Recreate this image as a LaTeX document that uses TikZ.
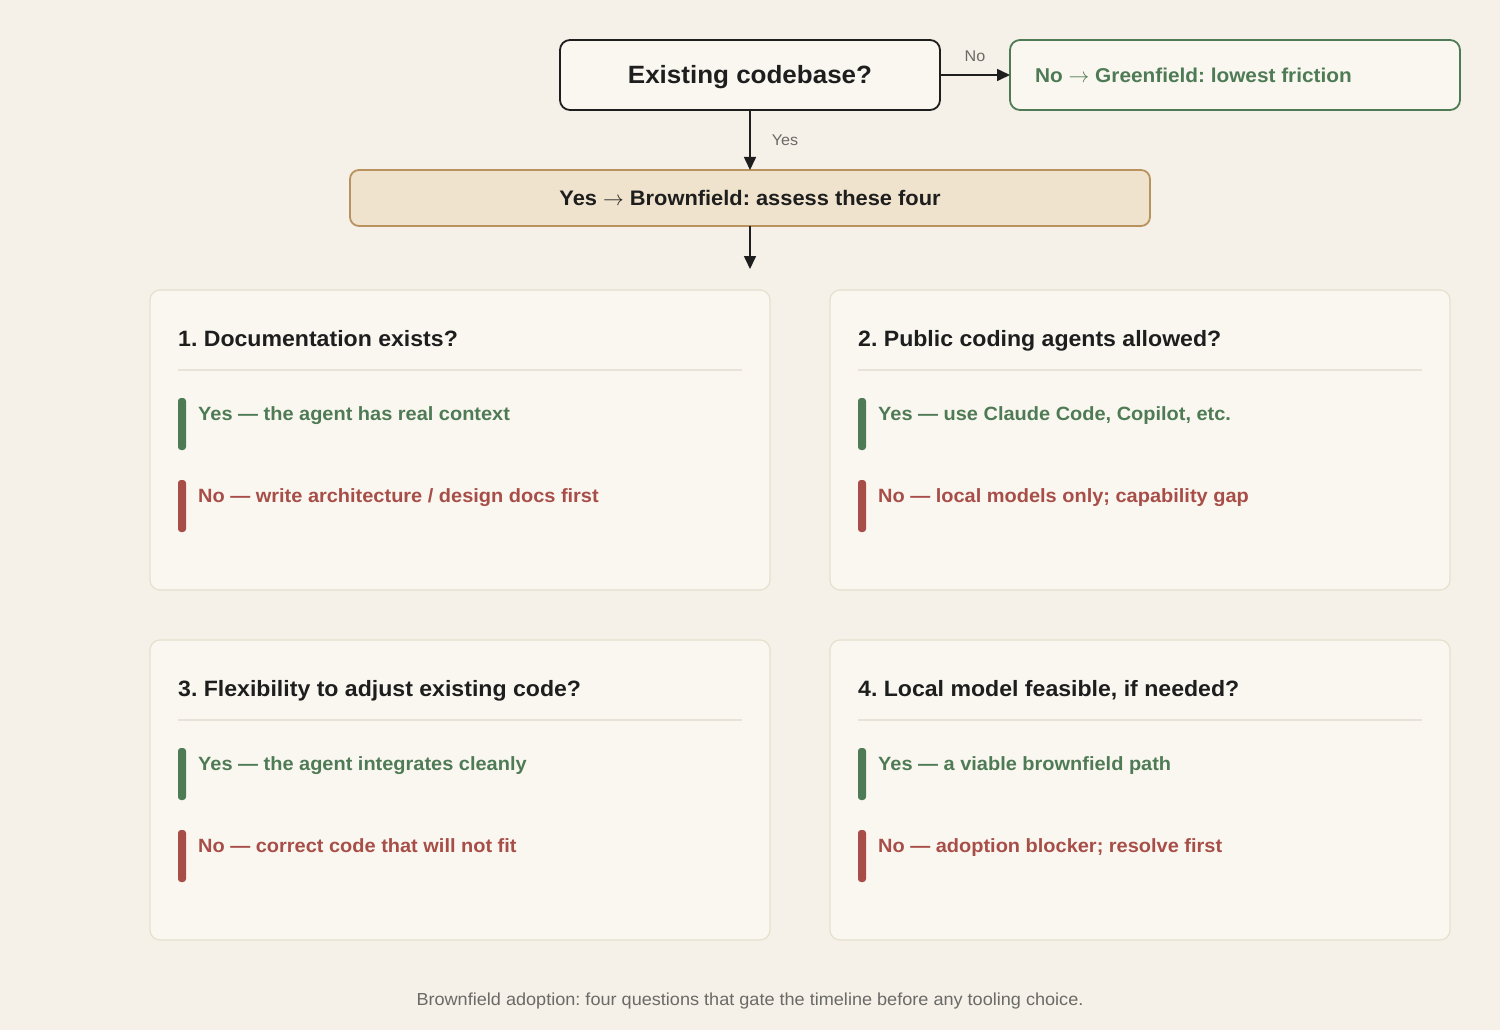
\documentclass[tikz,border=0pt]{standalone}
\usepackage{fontspec}
\setmainfont[FakeStretch=1.04]{Liberation Sans}
\usetikzlibrary{arrows.meta}
\frenchspacing
\definecolor{bg}{HTML}{F5F0E8}
\definecolor{cardfill}{HTML}{FAF7F0}
\definecolor{cardline}{HTML}{E6E0CE}
\definecolor{sepline}{HTML}{E8E2D8}
\definecolor{okgreen}{HTML}{4E7B55}
\definecolor{nored}{HTML}{A84E48}
\definecolor{tanline}{HTML}{B8935F}
\definecolor{tanfill}{HTML}{EFE3CD}
\definecolor{ink}{HTML}{1E1E1E}
\definecolor{muted}{HTML}{6A6A66}
\newcommand{\arr}{\ensuremath{\rightarrow}}
\tikzset{
  qbox/.style={draw=ink, line width=1.8pt, fill=cardfill, rounded corners=10pt},
  gbox/.style={draw=okgreen, line width=1.8pt, fill=cardfill, rounded corners=10pt},
  bbox/.style={draw=tanline, line width=1.8pt, fill=tanfill, rounded corners=9pt},
  card/.style={draw=cardline, line width=1.2pt, fill=cardfill, rounded corners=10pt},
  flow/.style={draw=ink, line width=1.6pt, -{Triangle[length=13pt,width=12pt]}},
  lbl/.style={anchor=base, text=muted, font=\fontsize{15.5}{18}\selectfont, inner sep=0pt},
  ttl/.style={anchor=base west, inner sep=0pt, text=ink, font=\fontsize{22.2}{26}\selectfont\bfseries},
  yesitem/.style={anchor=base west, inner sep=0pt, text=okgreen, font=\fontsize{19.2}{22}\selectfont\bfseries},
  noitem/.style={anchor=base west, inner sep=0pt, text=nored, font=\fontsize{19.2}{22}\selectfont\bfseries},
  gbar/.style={fill=okgreen, rounded corners=3pt},
  rbar/.style={fill=nored, rounded corners=3pt},
}
\newcommand{\qcard}[6]{%
  % #1 name, #2 x, #3 y, #4 title, #5 yes text, #6 no text
  \draw[card] (#2,#3) rectangle ++(620,300);
  \node[ttl] (#1t) at (#2+28,#3+56) {#4};
  \draw[draw=sepline, line width=1.2pt] (#2+28,#3+80) -- (#2+592,#3+80);
  \fill[gbar] (#2+28,#3+108) rectangle (#2+36,#3+160);
  \node[yesitem] (#1y) at (#2+48,#3+130) {#5};
  \fill[rbar] (#2+28,#3+190) rectangle (#2+36,#3+242);
  \node[noitem] (#1n) at (#2+48,#3+212) {#6};
}
\begin{document}
\begin{tikzpicture}[x=1pt,y=-1pt]
\fill[bg] (0,0) rectangle (1500,1030);
\useasboundingbox (0,0) rectangle (1500,1030);

\draw[qbox] (560,40) rectangle (940,110);
\node[anchor=base, inner sep=0pt, text=ink, font=\fontsize{25}{28}\selectfont\bfseries] (exist) at (750,84) {Existing codebase?};
\coordinate (existR) at (940,75);
\coordinate (existB) at (750,110);

\draw[gbox] (1010,40) rectangle (1460,110);
\node[anchor=base west, inner sep=0pt, text=okgreen, font=\fontsize{20}{22}\selectfont\bfseries] (green) at (1035,83) {No \arr{} Greenfield: lowest friction};
\coordinate (greenL) at (1010,75);

\draw[bbox] (350,170) rectangle (1150,226);
\node[anchor=base, inner sep=0pt, text=ink, font=\fontsize{21}{24}\selectfont\bfseries] (brown) at (750,205.5) {Yes \arr{} Brownfield: assess these four};
\coordinate (brownT) at (750,170);
\coordinate (brownB) at (750,226);
\coordinate (down) at (750,269);

\draw[flow] (existR) -- (greenL);
\node[lbl] (nolbl) at (975,62) {No};
\draw[flow] (existB) -- (brownT);
\node[lbl] (yeslbl) at (785,146) {Yes};
\draw[flow] (brownB) -- (down);

\qcard{c1}{150}{290}{1. Documentation exists?}{Yes — the agent has real context}{No — write architecture / design docs first}
\qcard{c2}{830}{290}{2. Public coding agents allowed?}{Yes — use Claude Code, Copilot, etc.}{No — local models only; capability gap}
\qcard{c3}{150}{640}{3. Flexibility to adjust existing code?}{Yes — the agent integrates cleanly}{No — correct code that will not fit}
\qcard{c4}{830}{640}{4. Local model feasible, if needed?}{Yes — a viable brownfield path}{No — adoption blocker; resolve first}

\node[anchor=base, inner sep=0pt, text=muted, font=\fontsize{17.4}{20}\selectfont] (cap) at (750,1005) {Brownfield adoption: four questions that gate the timeline before any tooling choice.};
\end{tikzpicture}
\end{document}
